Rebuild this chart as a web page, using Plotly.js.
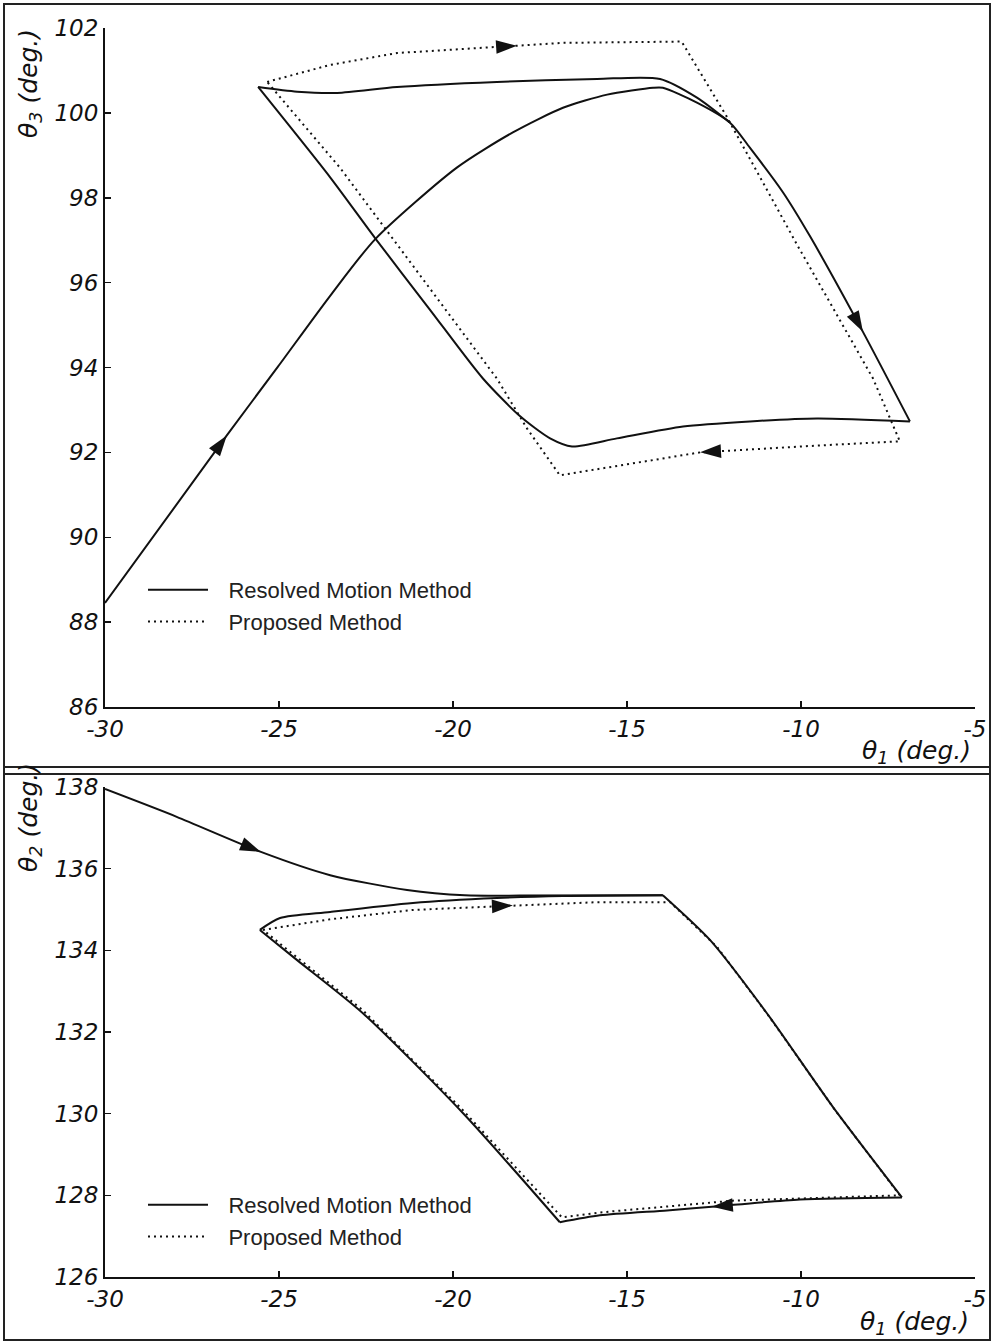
<!DOCTYPE html>
<html><head><meta charset="utf-8">
<script src="https://cdn.plot.ly/plotly-3.0.1.min.js"></script>
<style>html,body{margin:0;padding:0;background:#fff}</style>
</head><body><div id="chart" style="width:994px;height:1344px"></div>
<script>
// ---------- data ----------
const seriesNames = ['Resolved Motion Method', 'Proposed Method'];
const xTickVals = [-30, -25, -20, -15, -10, -5];
const topYTickVals = [86, 88, 90, 92, 94, 96, 98, 100, 102];
const bottomYTickVals = [126, 128, 130, 132, 134, 136, 138];
const xTitle = 'θ<sub>1</sub> (deg.)';
const topYTitle = 'θ<sub>3</sub> (deg.)';
const bottomYTitle = 'θ<sub>2</sub> (deg.)';

// top panel: theta1 vs theta3
const topSolidX = [-30.00, -26.50, -25.03, -23.53, -22.24, -19.89, -18.28, -16.84, -15.57, -14.25, -13.97, -12.99, -12.04, -11.47, -10.52, -9.74, -8.22, -6.87,
  -9.54, -11.47, -13.39, -15.29, -16.58, -17.21, -18.07, -19.14, -20.66, -22.24, -23.53, -25.60,
  -24.48, -23.33, -21.61, -18.74, -15.86, -14.05, -12.99, -12.04];
const topSolidY = [88.45, 92.40, 94.02, 95.69, 97.02, 98.71, 99.54, 100.12, 100.43, 100.59, 100.59, 100.24, 99.77, 99.18, 98.13, 97.09, 94.84, 92.73,
  92.80, 92.73, 92.61, 92.33, 92.14, 92.33, 92.85, 93.74, 95.36, 97.05, 98.48, 100.61,
  100.50, 100.47, 100.61, 100.73, 100.80, 100.80, 100.36, 99.77];
const topSolidCorners = [0, 17, 29, 37];
const topDottedX = [-25.34, -23.53, -21.61, -18.16, -16.84, -13.43, -12.14, -10.09, -7.93, -7.16,
  -9.54, -12.90, -14.34, -16.93, -17.87, -18.74, -23.25, -25.34];
const topDottedY = [100.73, 101.13, 101.41, 101.58, 101.65, 101.68, 99.92, 96.86, 93.74, 92.26,
  92.16, 92.00, 91.81, 91.46, 92.56, 93.74, 98.71, 100.73];

// bottom panel: theta1 vs theta2
const bottomSolidX = [-30.00, -27.94, -25.52, -23.53, -21.32, -19.66, -18.01, -13.97, -12.61, -10.98, -9.08, -7.10,
  -10.03, -12.56, -13.85, -15.78, -16.93, -19.71, -22.59, -24.48, -25.55,
  -24.97, -23.53, -21.15, -18.74, -16.84, -13.97];
const bottomSolidY = [137.95, 137.27, 136.41, 135.84, 135.48, 135.35, 135.34, 135.35, 134.25, 132.46, 130.16, 127.95,
  127.90, 127.72, 127.63, 127.51, 127.34, 130.01, 132.46, 133.76, 134.50,
  134.79, 134.94, 135.16, 135.28, 135.33, 135.35];
const bottomSolidCorners = [0, 7, 11, 16, 20, 26];
const bottomDottedX = [-25.46, -23.53, -21.15, -18.28, -15.86, -13.76, -12.41, -10.95, -9.05, -7.16,
  -11.95, -15.78, -16.87, -19.71, -22.59, -25.46];
const bottomDottedY = [134.50, 134.76, 134.99, 135.10, 135.18, 135.18, 134.08, 132.42, 130.12, 128.00,
  127.87, 127.58, 127.46, 130.08, 132.53, 134.50];

// direction arrows: index of the arrow tip within a series (tail = previous point)
const topSolidArrowIdx = [1, 16];
const topDottedArrowIdx = [3, 11];
const bottomSolidArrowIdx = [2, 13];
const bottomDottedArrowIdx = [3];

// ---------- styles ----------
const INK = '#111';
const solidLine = {color: INK, width: 2, shape: 'spline', smoothing: 0.7};
const dotLine = {color: INK, width: 2, dash: '2px,4px'};
const legendPad = '\u2002\u2009';

// a curved series is drawn as smooth pieces between its sharp corners
function solidPieces(xs, ys, corners, xa, ya, legendId, name) {
  const out = [];
  for (let k = 0; k < corners.length - 1; k++) {
    const a = corners[k], b = corners[k + 1];
    out.push({type: 'scatter', mode: 'lines', x: xs.slice(a, b + 1), y: ys.slice(a, b + 1),
      name: legendPad + name, legendgroup: legendId + 'solid', showlegend: k === 0, legend: legendId,
      line: solidLine, xaxis: xa, yaxis: ya, hoverinfo: 'skip'});
  }
  return out;
}

function arrowTraces(xs, ys, idxs, xa, ya) {
  return idxs.map(i => ({
    type: 'scatter', mode: 'markers', xaxis: xa, yaxis: ya, showlegend: false, hoverinfo: 'skip',
    x: [xs[i - 1], xs[i]], y: [ys[i - 1], ys[i]], cliponaxis: false,
    marker: {symbol: 'arrow', size: 22, color: INK, angleref: 'previous', opacity: [0, 1], line: {width: 0}}
  }));
}

const traces = [
  ...solidPieces(topSolidX, topSolidY, topSolidCorners, 'x', 'y', 'legend', seriesNames[0]),
  {type: 'scatter', mode: 'lines', x: topDottedX, y: topDottedY, name: legendPad + seriesNames[1], line: dotLine, xaxis: 'x', yaxis: 'y', legend: 'legend'},
  ...solidPieces(bottomSolidX, bottomSolidY, bottomSolidCorners, 'x2', 'y2', 'legend2', seriesNames[0]),
  {type: 'scatter', mode: 'lines', x: bottomDottedX, y: bottomDottedY, name: legendPad + seriesNames[1], line: dotLine, xaxis: 'x2', yaxis: 'y2', legend: 'legend2'},
  ...arrowTraces(topSolidX, topSolidY, topSolidArrowIdx, 'x', 'y'),
  ...arrowTraces(topDottedX, topDottedY, topDottedArrowIdx, 'x', 'y'),
  ...arrowTraces(bottomSolidX, bottomSolidY, bottomSolidArrowIdx, 'x2', 'y2'),
  ...arrowTraces(bottomDottedX, bottomDottedY, bottomDottedArrowIdx, 'x2', 'y2')
];

const W = 994, H = 1344;
const tickFont = {family: 'DejaVu Sans, sans-serif', size: 23, color: INK, style: 'italic'};
const titleFont = {family: 'DejaVu Sans, sans-serif', size: 25, color: INK, style: 'italic'};
const legendFont = {family: 'Liberation Sans, Arial, sans-serif', size: 22, color: '#222'};

function xAxis(anchor, ticks) {
  return {domain: [105 / W, 975 / W], anchor: anchor, range: [-30, -5], tickvals: ticks, ticktext: ticks.map(String),
    ticks: 'inside', ticklen: 6, tickwidth: 1.5, tickcolor: INK, showline: true, linecolor: INK, linewidth: 2,
    showgrid: false, zeroline: false, tickfont: tickFont, fixedrange: true};
}
function yAxis(anchor, top, bottom, range, ticks) {
  return {domain: [1 - bottom / H, 1 - top / H], anchor: anchor, range: range, tickvals: ticks, ticktext: ticks.map(String),
    ticks: 'inside', ticklen: 6, tickwidth: 1.5, tickcolor: INK, showline: true, linecolor: INK, linewidth: 2,
    showgrid: false, zeroline: false, tickfont: tickFont, fixedrange: true};
}

function hline(yPix) {
  return {type: 'line', xref: 'paper', yref: 'paper', x0: 4 / W, x1: 990 / W, y0: 1 - yPix / H, y1: 1 - yPix / H, line: {color: '#222', width: 2}};
}

const legendBase = {xanchor: 'left', yanchor: 'top', bgcolor: 'rgba(0,0,0,0)', font: legendFont, itemwidth: 60, tracegroupgap: 0, traceorder: 'normal'};

const layout = {
  width: W, height: H, margin: {l: 0, r: 0, t: 0, b: 0},
  paper_bgcolor: '#fff', plot_bgcolor: 'rgba(0,0,0,0)',
  xaxis: xAxis('y', xTickVals),
  yaxis: yAxis('x', 28, 707, [86, 102], topYTickVals),
  xaxis2: xAxis('y2', xTickVals),
  yaxis2: yAxis('x2', 787, 1277, [126, 138], bottomYTickVals),
  legend: Object.assign({x: 143 / W, y: 1 - 569 / H}, legendBase),
  legend2: Object.assign({x: 143 / W, y: 1 - 1184 / H}, legendBase),
  shapes: [
    {type: 'rect', xref: 'paper', yref: 'paper', x0: 4 / W, x1: 990 / W, y0: 1 - 1340 / H, y1: 1 - 4 / H, line: {color: '#222', width: 2}},
    hline(767), hline(774)
  ],
  annotations: [
    {text: topYTitle, xref: 'paper', yref: 'paper', x: 30 / W, y: 1 - 84 / H, textangle: -90, showarrow: false, font: titleFont, xanchor: 'center', yanchor: 'middle'},
    {text: bottomYTitle, xref: 'paper', yref: 'paper', x: 30 / W, y: 1 - 818 / H, textangle: -90, showarrow: false, font: titleFont, xanchor: 'center', yanchor: 'middle'},
    {text: xTitle, xref: 'paper', yref: 'paper', x: 916 / W, y: 1 - 752 / H, showarrow: false, font: titleFont, xanchor: 'center', yanchor: 'middle'},
    {text: xTitle, xref: 'paper', yref: 'paper', x: 914 / W, y: 1 - 1323 / H, showarrow: false, font: titleFont, xanchor: 'center', yanchor: 'middle'}
  ]
};

Plotly.newPlot('chart', traces, layout, {displayModeBar: false, staticPlot: true});
</script>
</body></html>
